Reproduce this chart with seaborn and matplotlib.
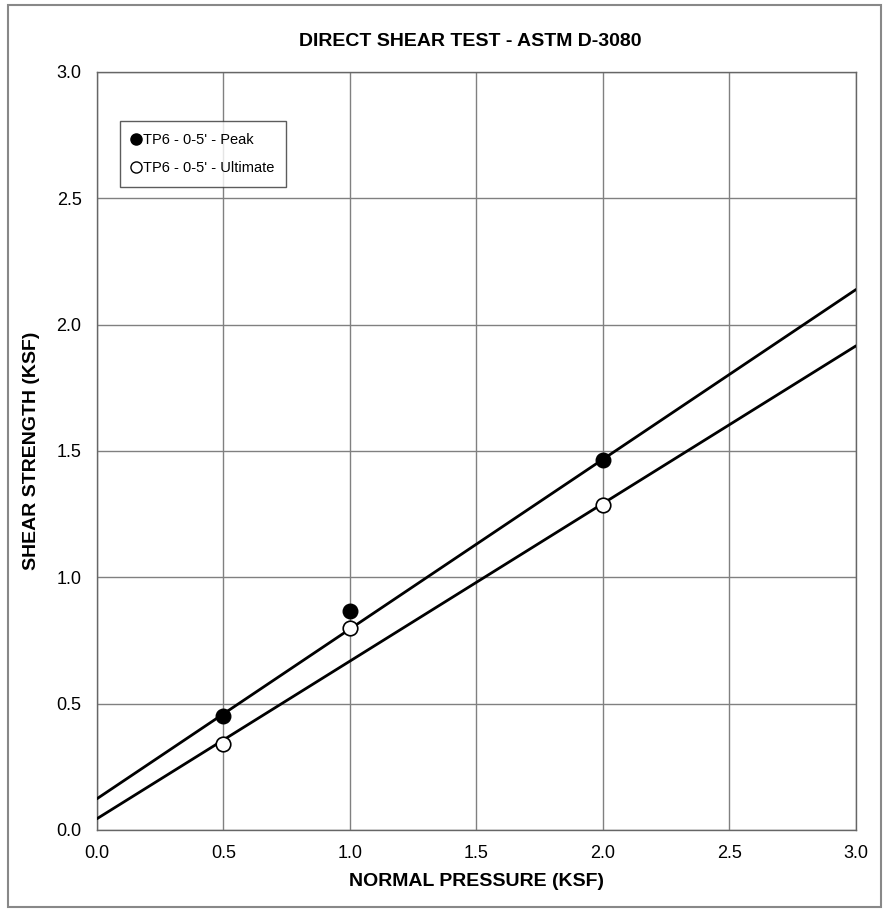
import numpy as np
import pandas as pd
import matplotlib.pyplot as plt
import seaborn as sns
from matplotlib.patches import Rectangle
from matplotlib.lines import Line2D

# Test data
normal_pressure = [0.5, 1.0, 2.0]
peak_strength = [0.45, 0.865, 1.465]
ultimate_strength = [0.34, 0.80, 1.286]

# Failure envelopes: cohesion (KSF) and slope (tan phi)
envelope_names = ["Peak", "Ultimate"]
envelope_cohesion = [0.123, 0.044]
envelope_slope = [0.672, 0.624]

x_ticks = [0.0, 0.5, 1.0, 1.5, 2.0, 2.5, 3.0]
y_ticks = [0.0, 0.5, 1.0, 1.5, 2.0, 2.5, 3.0]

sns.set_style("white")
plt.rcParams["font.family"] = ["Liberation Sans", "DejaVu Sans"]
plt.rcParams["text.color"] = "black"
plt.rcParams["axes.labelcolor"] = "black"
plt.rcParams["xtick.color"] = "black"
plt.rcParams["ytick.color"] = "black"

fig = plt.figure(figsize=(8.88, 9.11), dpi=100)
ax = fig.add_axes([0.109, 0.089, 0.855, 0.832])

# Envelope lines across the full x range
x_line = np.array([x_ticks[0], x_ticks[-1]])
for name, c, m in zip(envelope_names, envelope_cohesion, envelope_slope):
    sns.lineplot(x=x_line, y=c + m * x_line, ax=ax, color="black",
                 linewidth=2, zorder=3)

df = pd.DataFrame({"x": normal_pressure, "peak": peak_strength,
                   "ult": ultimate_strength})
sns.scatterplot(data=df, x="x", y="peak", ax=ax, s=110, color="black",
                edgecolor="black", linewidth=1, zorder=4)
sns.scatterplot(data=df, x="x", y="ult", ax=ax, s=110, facecolor="white",
                edgecolor="black", linewidth=1.2, zorder=4)

ax.set_xlim(0, 3)
ax.set_ylim(0, 3)
ax.set_xticks(x_ticks)
ax.set_yticks(y_ticks)
ax.set_xticklabels([f"{v:.1f}" for v in x_ticks], fontsize=13)
ax.set_yticklabels([f"{v:.1f}" for v in y_ticks], fontsize=13)
ax.tick_params(axis="both", direction="out", length=7, width=1,
               color="#555555", labelcolor="black", pad=4)
ax.grid(True, color="#808080", linewidth=1)
for sp in ax.spines.values():
    sp.set_color("#666666")
    sp.set_linewidth(1)

ax.set_xlabel("NORMAL PRESSURE (KSF)", fontsize=14, fontweight="bold",
              labelpad=8)
ax.set_ylabel("SHEAR STRENGTH (KSF)", fontsize=14, fontweight="bold",
              labelpad=12)
fig.text(0.53, 0.954, "DIRECT SHEAR TEST - ASTM D-3080", ha="center",
         va="center", fontsize=14, fontweight="bold")

handles = [
    Line2D([], [], marker="o", linestyle="", markersize=8,
           markerfacecolor="black", markeredgecolor="black"),
    Line2D([], [], marker="o", linestyle="", markersize=8,
           markerfacecolor="white", markeredgecolor="black"),
]
leg = ax.legend(handles, ["TP6 - 0-5' - Peak", "TP6 - 0-5' - Ultimate"],
                loc="upper left", bbox_to_anchor=(0.03, 0.935),
                fontsize=10.5, frameon=True, fancybox=False,
                handlelength=0.6, handletextpad=0.2, borderpad=0.8,
                labelspacing=1.0, borderaxespad=0)
leg.get_frame().set_edgecolor("#333333")
leg.get_frame().set_linewidth(1)

# Outer border of the sheet
fig.patches.append(Rectangle((0.009, 0.004), 0.983, 0.990,
                             transform=fig.transFigure, fill=False,
                             edgecolor="#888888", linewidth=1.5))

fig.savefig("out.png", dpi=100)
plt.close(fig)
